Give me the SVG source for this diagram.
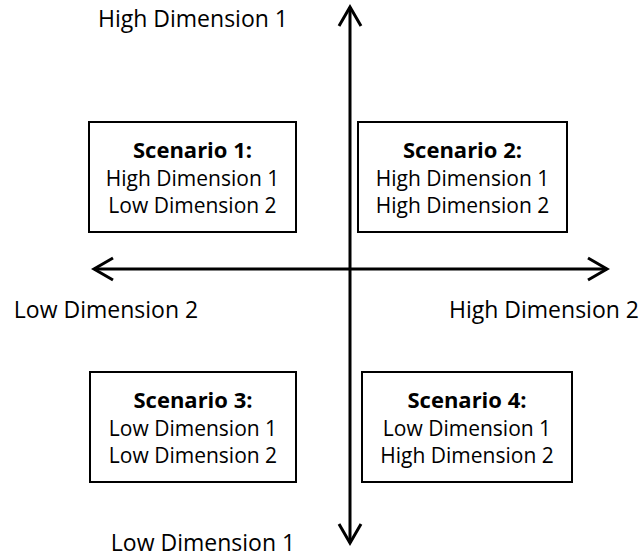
<svg xmlns="http://www.w3.org/2000/svg" width="639" height="558" viewBox="0 0 639 558">
  <style>
    .box { fill: #ffffff; stroke: #000000; stroke-width: 2; }
    .axis { stroke: #000000; stroke-width: 3; fill: none; }
    .lbl { font-family: "Open Sans", "Liberation Sans", sans-serif; font-size: 23px; fill: #000000; text-anchor: middle; }
    .t { font-family: "Open Sans", "Liberation Sans", sans-serif; font-size: 21px; fill: #000000; text-anchor: middle; }
    .tb { font-family: "Open Sans", "Liberation Sans", sans-serif; font-size: 22px; font-weight: bold; fill: #000000; text-anchor: middle; }
  </style>
  <defs>
    <marker id="chev" markerUnits="userSpaceOnUse" markerWidth="30" markerHeight="30" viewBox="-25 -15 30 30" refX="0" refY="0" orient="auto-start-reverse" overflow="visible">
      <path d="M-19,-11 L0,0 L-19,11" fill="none" stroke="#000000" stroke-width="3"/>
    </marker>
  </defs>
  <rect width="639" height="558" fill="#ffffff"/>
  <g id="connectors">
    <line class="axis" x1="350" y1="7" x2="350" y2="543" marker-start="url(#chev)" marker-end="url(#chev)"/>
    <line class="axis" x1="94" y1="269" x2="607" y2="269" marker-start="url(#chev)" marker-end="url(#chev)"/>
  </g>
  <g id="axis-labels">
    <text class="lbl" x="193" y="27">High Dimension 1</text>
    <text class="lbl" x="106" y="318">Low Dimension 2</text>
    <text class="lbl" x="544" y="318">High Dimension 2</text>
    <text class="lbl" x="203" y="551">Low Dimension 1</text>
  </g>
  <g id="scenario1">
    <rect class="box" x="89" y="122" width="207" height="110"/>
    <text class="tb" x="192.5" y="158">Scenario 1:</text>
    <text class="t" x="192.5" y="186">High Dimension 1</text>
    <text class="t" x="192.5" y="213">Low Dimension 2</text>
  </g>
  <g id="scenario2">
    <rect class="box" x="358" y="122" width="209" height="110"/>
    <text class="tb" x="462.5" y="158">Scenario 2:</text>
    <text class="t" x="462.5" y="186">High Dimension 1</text>
    <text class="t" x="462.5" y="213">High Dimension 2</text>
  </g>
  <g id="scenario3">
    <rect class="box" x="90" y="372" width="206" height="110"/>
    <text class="tb" x="193" y="408">Scenario 3:</text>
    <text class="t" x="193" y="436">Low Dimension 1</text>
    <text class="t" x="193" y="463">Low Dimension 2</text>
  </g>
  <g id="scenario4">
    <rect class="box" x="362" y="372" width="210" height="110"/>
    <text class="tb" x="467" y="408">Scenario 4:</text>
    <text class="t" x="467" y="436">Low Dimension 1</text>
    <text class="t" x="467" y="463">High Dimension 2</text>
  </g>
</svg>
